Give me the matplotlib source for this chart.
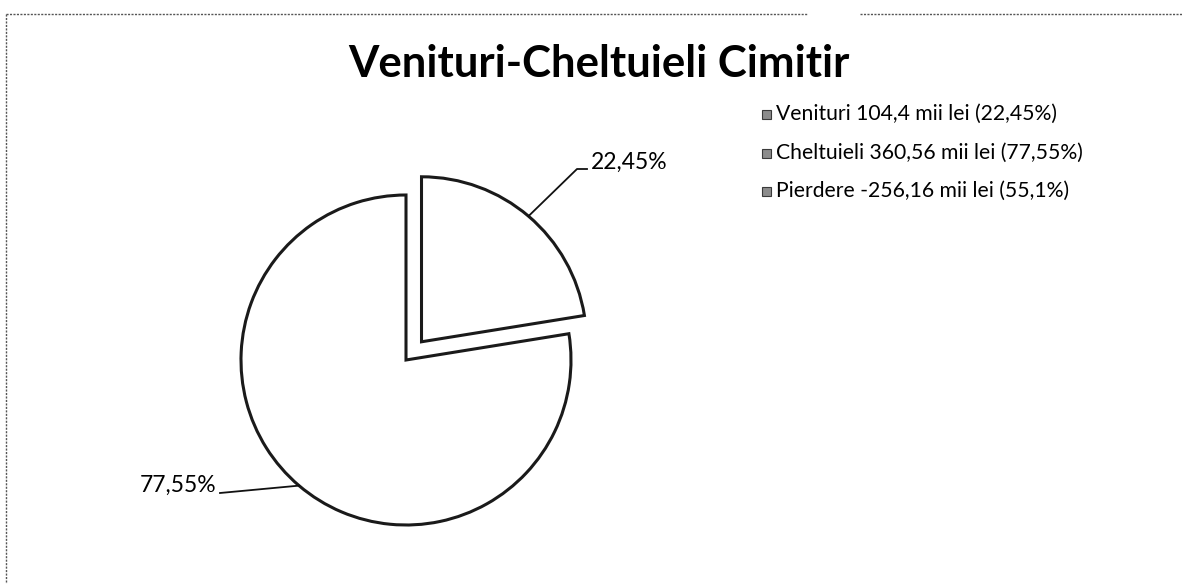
import matplotlib

matplotlib.use("Agg")
import matplotlib.pyplot as plt
from matplotlib.lines import Line2D
from matplotlib.patches import Rectangle
import numpy as np

plt.rcParams["font.family"] = ["Lato", "DejaVu Sans"]

title = "Venituri-Cheltuieli Cimitir"
slices = ["Venituri", "Cheltuieli"]
values = [104.4, 360.56]
slice_labels = ["22,45%", "77,55%"]
legend_labels = [
    "Venituri 104,4 mii lei (22,45%)",
    "Cheltuieli 360,56 mii lei (77,55%)",
    "Pierdere -256,16 mii lei (55,1%)",
]

W, H = 1182, 584
fig = plt.figure(figsize=(W / 100, H / 100), dpi=100)

# pie axes: centre at (406, 360) px, radius 165 px
R = 165.0
cx, cy = 406, 360
left_px, right_px, top_px, bot_px = 106, 706, 110, 584
ax = fig.add_axes([left_px / W, (H - bot_px) / H, (right_px - left_px) / W, (bot_px - top_px) / H])

explode = [0.145, 0.0]
wedges, _ = ax.pie(
    values,
    explode=explode,
    startangle=90,
    counterclock=False,
    radius=1.0,
    colors=["white", "white"],
    wedgeprops={"edgecolor": "#1a1a1a", "linewidth": 2.2},
)
ax.set_aspect("auto")
ax.set_xlim((left_px - cx) / R, (right_px - cx) / R)
ax.set_ylim((cy - bot_px) / R, (cy - top_px) / R)
ax.axis("off")

# data labels with leader lines
for w, ex, lab in zip(wedges, explode, slice_labels):
    mid = np.deg2rad((w.theta1 + w.theta2) / 2)
    ox, oy = w.center
    px, py = ox + np.cos(mid), oy + np.sin(mid)
    if np.cos(mid) > 0:
        elbow = ((577 - cx) / R, (cy - 169) / R)
        end = ((587 - cx) / R, (cy - 169) / R)
        ax.plot([px, elbow[0], end[0]], [py, elbow[1], end[1]], color="#111111", lw=1.3)
        ax.text(end[0] + 4 / R, (cy - 162) / R, lab, ha="left", va="center", fontsize=16.5)
    else:
        end = ((220 - cx) / R, (cy - 493) / R)
        ax.plot([px, end[0]], [py, end[1]], color="#111111", lw=1.3)
        ax.text(end[0] - 4 / R, (cy - 485) / R, lab, ha="right", va="center", fontsize=16.5)

fig.text(599 / W, 1 - 64 / H, title, ha="center", va="center", fontsize=31.5, fontweight="bold")

# legend
rows_y = [114, 153, 191]
for y, lab in zip(rows_y, legend_labels):
    fig.patches.append(
        Rectangle(((762) / W, 1 - (y + 4.5) / H), 9 / W, 9 / H, transform=fig.transFigure,
                  facecolor="#8c8c8c", edgecolor="#3a3a3a", linewidth=0.8)
    )
    fig.text(776 / W, 1 - y / H, lab, ha="left", va="center", fontsize=15.2)

# dotted frame
frame_kw = dict(color="#555555", linewidth=1.0, linestyle=(0, (1.5, 1)), transform=fig.transFigure)
fig.lines.append(Line2D([6 / W, 6 / W], [1 - 14 / H, 0], **frame_kw))
fig.lines.append(Line2D([6 / W, 808 / W], [1 - 14 / H, 1 - 14 / H], **frame_kw))
fig.lines.append(Line2D([860 / W, 1], [1 - 14 / H, 1 - 14 / H], **frame_kw))

fig.savefig("out.png", dpi=100, facecolor="white")
